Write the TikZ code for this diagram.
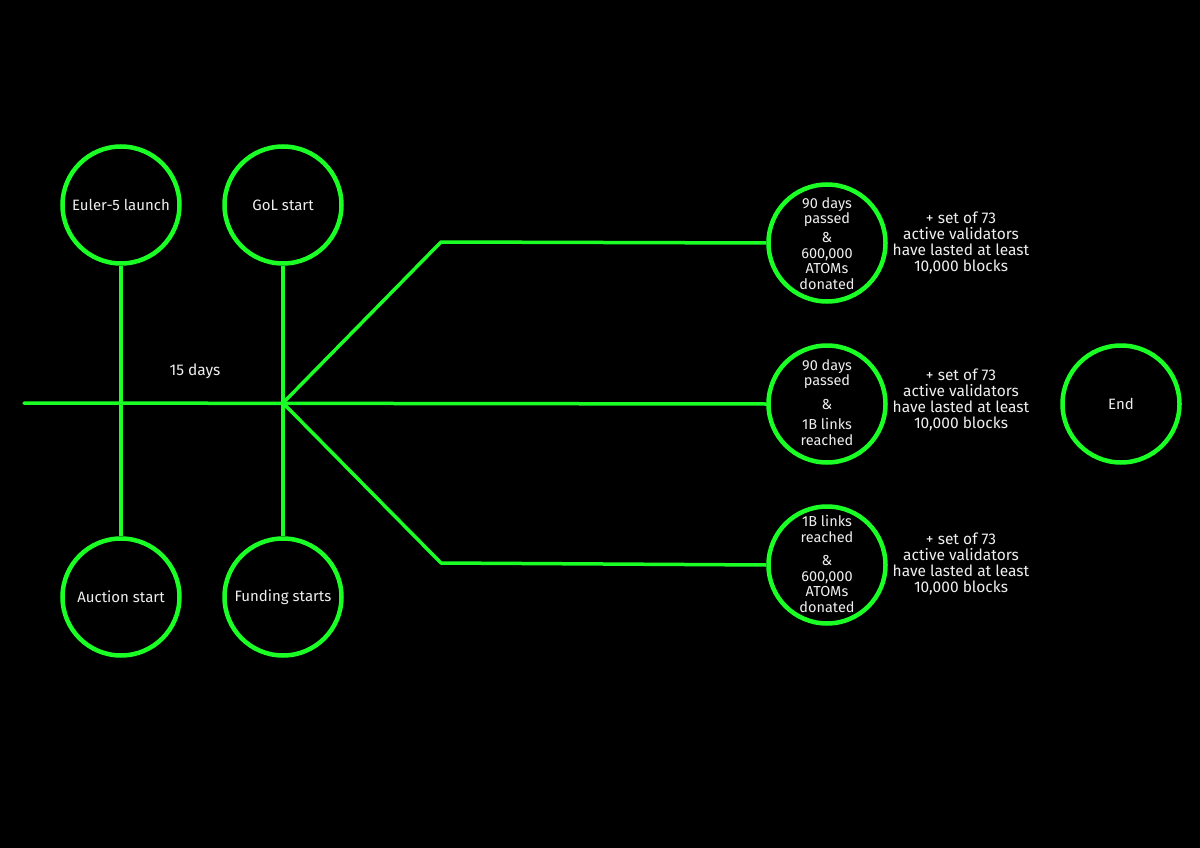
\documentclass[tikz,border=0pt]{standalone}
\usepackage{fontspec}
\setmainfont{Fira Sans}
\begin{document}
\definecolor{neon}{RGB}{26,255,36}
\definecolor{ink}{RGB}{238,238,238}
\begin{tikzpicture}[x=1pt,y=-1pt,
  ring/.style={circle,draw=neon,line width=4.5pt,minimum size=117pt,inner sep=0pt,
    text=ink,font=\fontsize{15}{16}\selectfont,align=center},
  wire/.style={draw=neon,line width=3.5pt,line join=round},
  lbl/.style={text=ink,font=\fontsize{15.5}{16}\selectfont,align=center,inner sep=0pt},
  inner/.style={text=ink,font=\fontsize{14.5}{15.5}\selectfont,align=center,inner sep=0pt}]
% canvas
\fill[black] (0,0) rectangle (1200,848);
\useasboundingbox (0,0) rectangle (1200,848);

% milestone circles
\node[ring] (eu) at (121,205) {Euler-5 launch};
\node[ring] (gol) at (283,205) {GoL start};
\node[ring] (au) at (121,597) {Auction start};
\node[ring] (fu) at (283,597) {Funding starts};
\node[ring] (c1) at (827,243) {};
\node[ring] (c2) at (827,404) {};
\node[ring] (c3) at (827,565) {};
\node[ring] (end) at (1121,404) {End};

% condition texts inside the right circles
\node[inner] (t1a) at (827,212) {90 days\\passed};
\node[inner] (t1b) at (827,238) {\&};
\node[inner] (t1c) at (827,269) {600,000\\ATOMs\\donated};
\node[inner] (t2a) at (827,374) {90 days\\passed};
\node[inner] (t2b) at (827,405) {\&};
\node[inner] (t2c) at (827,432) {1B links\\reached};
\node[inner] (t3a) at (827,529) {1B links\\reached};
\node[inner] (t3b) at (827,561) {\&};
\node[inner] (t3c) at (827,592) {600,000\\ATOMs\\donated};

% side notes
\node[lbl] (n1) at (961,243) {+ set of 73\\active validators\\have lasted at least\\10,000 blocks};
\node[lbl] (n2) at (961,400) {+ set of 73\\active validators\\have lasted at least\\10,000 blocks};
\node[lbl] (n3) at (961,564) {+ set of 73\\active validators\\have lasted at least\\10,000 blocks};
\node[lbl] (d15) at (195,371) {15 days};

% timeline
\coordinate (s) at (24,403);
\coordinate (j) at (283,403);
\coordinate (k1) at (441,242);
\coordinate (k3) at (441,563);
\path[wire,line cap=round] (s) -- (c2.west);
\path[wire] (eu.south) -- (au.north);
\path[wire] (gol.south) -- (fu.north);
\path[wire] (j) -- (k1) -- (c1.west);
\path[wire] (j) -- (k3) -- (c3.west);
\end{tikzpicture}
\end{document}
